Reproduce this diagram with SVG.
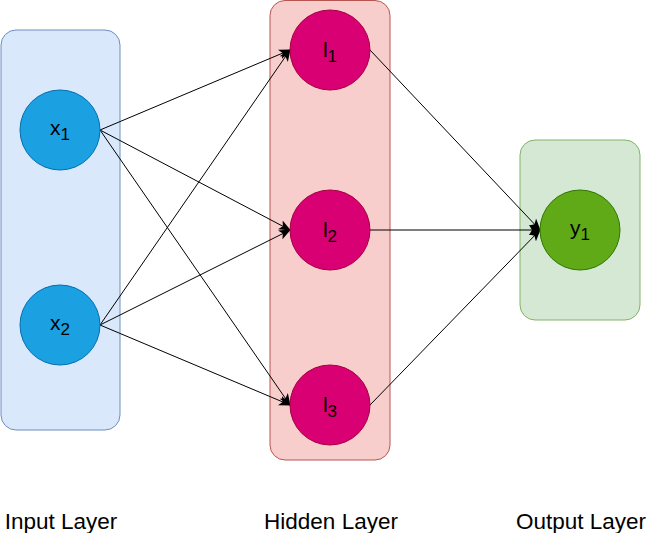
<svg xmlns="http://www.w3.org/2000/svg" width="651" height="533" viewBox="0 0 651 533">
<style>
text{font-family:"Liberation Sans",Arial,Helvetica,sans-serif;fill:#000}
.lbl{font-size:21px;text-anchor:middle}
.sub{font-size:17px}
.cap{font-size:22.5px;text-anchor:middle}
.edge{stroke:#000;stroke-width:1;fill:none;marker-end:url(#arr)}
</style>
<defs>
<marker id="arr" markerUnits="userSpaceOnUse" markerWidth="12" markerHeight="10" viewBox="0 0 12 10" refX="11" refY="5" orient="auto">
<path d="M0,0 L12,5 L0,10 L3,5 Z" fill="#000"/>
</marker>
</defs>
<rect width="651" height="533" fill="#fff"/>
<g id="input-layer">
<rect x="1" y="30" width="119" height="400" rx="15" fill="#dae8fc" stroke="#6c8ebf"/>
</g>
<g id="hidden-layer">
<rect x="270" y="0.5" width="120" height="459.5" rx="15" fill="#f8cecc" stroke="#b85450"/>
</g>
<g id="output-layer">
<rect x="520" y="140" width="120" height="180" rx="15" fill="#d5e8d4" stroke="#82b366"/>
</g>
<g id="connectors">
<line class="edge" x1="100" y1="130" x2="290" y2="50"/>
<line class="edge" x1="100" y1="130" x2="290" y2="230"/>
<line class="edge" x1="100" y1="130" x2="290" y2="405"/>
<line class="edge" x1="100" y1="325" x2="290" y2="50"/>
<line class="edge" x1="100" y1="325" x2="290" y2="230"/>
<line class="edge" x1="100" y1="325" x2="290" y2="405"/>
<line class="edge" x1="370" y1="50" x2="540" y2="230"/>
<line class="edge" x1="370" y1="230" x2="540" y2="230"/>
<line class="edge" x1="370" y1="405" x2="540" y2="230"/>
</g>
<g id="x1">
<circle cx="60" cy="130" r="40" fill="#1ba1e2" stroke="#006eaf"/>
<text class="lbl" x="60" y="135">x<tspan class="sub" dy="5">1</tspan></text>
</g>
<g id="x2">
<circle cx="60" cy="325" r="40" fill="#1ba1e2" stroke="#006eaf"/>
<text class="lbl" x="60" y="330">x<tspan class="sub" dy="5">2</tspan></text>
</g>
<g id="l1">
<circle cx="330" cy="50" r="40" fill="#d80073" stroke="#a50040"/>
<text class="lbl" x="330" y="57">l<tspan class="sub" dy="5">1</tspan></text>
</g>
<g id="l2">
<circle cx="330" cy="230" r="40" fill="#d80073" stroke="#a50040"/>
<text class="lbl" x="330" y="237">l<tspan class="sub" dy="5">2</tspan></text>
</g>
<g id="l3">
<circle cx="330" cy="405" r="40" fill="#d80073" stroke="#a50040"/>
<text class="lbl" x="330" y="412">l<tspan class="sub" dy="5">3</tspan></text>
</g>
<g id="y1">
<circle cx="580" cy="230" r="40" fill="#60a917" stroke="#2d7600"/>
<text class="lbl" x="580" y="235">y<tspan class="sub" dy="5">1</tspan></text>
</g>
<g id="captions">
<text class="cap" x="61" y="529">Input Layer</text>
<text class="cap" x="331" y="529">Hidden Layer</text>
<text class="cap" x="581" y="529">Output Layer</text>
</g>
</svg>
